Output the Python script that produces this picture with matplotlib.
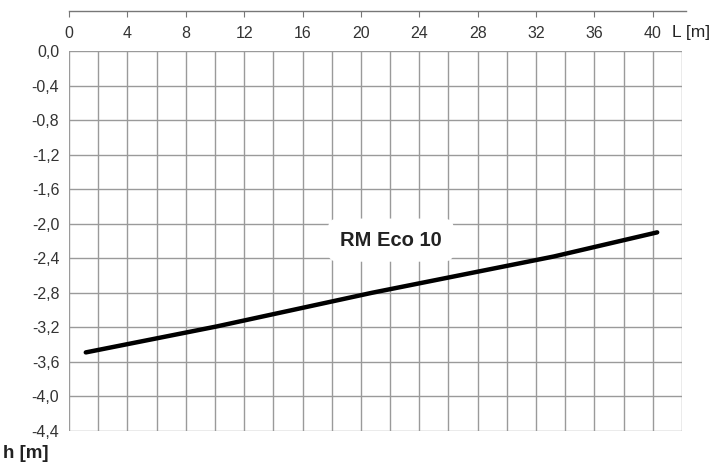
import matplotlib
matplotlib.use("Agg")
import matplotlib.pyplot as plt
import numpy as np

# Data
length_m = [1.15, 10.1, 20.75, 33.2, 40.3]
depth_m = [-3.49, -3.19, -2.80, -2.38, -2.10]
series_label = "RM Eco 10"
x_ticks = [0, 4, 8, 12, 16, 20, 24, 28, 32, 36, 40]
y_ticks = [0.0, -0.4, -0.8, -1.2, -1.6, -2.0, -2.4, -2.8, -3.2, -3.6, -4.0, -4.4]

plt.rcParams['font.family'] = ['Liberation Sans', 'DejaVu Sans']

fig = plt.figure(figsize=(7.23, 4.65), dpi=100)
ax = fig.add_axes([69/723, 1-431/465, (682-69)/723, (431-51)/465])

ax.set_xlim(0, 42)
ax.set_ylim(-4.4, 0)

# grid
ax.set_xticks(np.arange(0, 43, 2), minor=True)
ax.set_xticks(x_ticks)
ax.set_yticks(y_ticks)
ax.grid(True, which='both', axis='x', color='#9a9a9a', linewidth=1.0)
ax.grid(True, which='major', axis='y', color='#9a9a9a', linewidth=1.0)
ax.set_axisbelow(True)

ax.plot(length_m, depth_m, color='black', linewidth=3.2, solid_capstyle='round', zorder=3)

ax.text(22.05, -2.19, series_label, fontsize=14.5, fontweight='bold', color='#222222',
        ha='center', va='center', zorder=4,
        bbox=dict(boxstyle='round,pad=0.6,rounding_size=0.5', facecolor='white', edgecolor='none'))

for s in ['left', 'right', 'bottom']:
    ax.spines[s].set_visible(False)
ax.spines['top'].set_position(('outward', 29))
ax.spines['top'].set_color('#777777')
ax.spines['top'].set_linewidth(1.0)
ax.spines['top'].set_bounds(0, 42.3)

ax.xaxis.set_ticks_position('top')
ax.xaxis.set_label_position('top')
ax.set_xticklabels([str(v) for v in x_ticks])
ax.tick_params(axis='x', which='major', direction='in', length=4, color='#777777',
               labelsize=11.5, labelcolor='#333333', pad=-22)
ax.tick_params(axis='x', which='minor', length=0)

ax.set_yticklabels([f"{v:.1f}".replace('.', ',') for v in y_ticks])
ax.tick_params(axis='y', length=0, labelsize=11.5, labelcolor='#333333', pad=7)

fig.text(672/723, 1-33/465, "L [m]", fontsize=12.5, color='#222222', ha='left', va='center')
fig.text(3/723, 1-453/465, "h [m]", fontsize=13.5, fontweight='bold', color='#222222', ha='left', va='center')

fig.savefig("out.png", dpi=100, facecolor='white')
